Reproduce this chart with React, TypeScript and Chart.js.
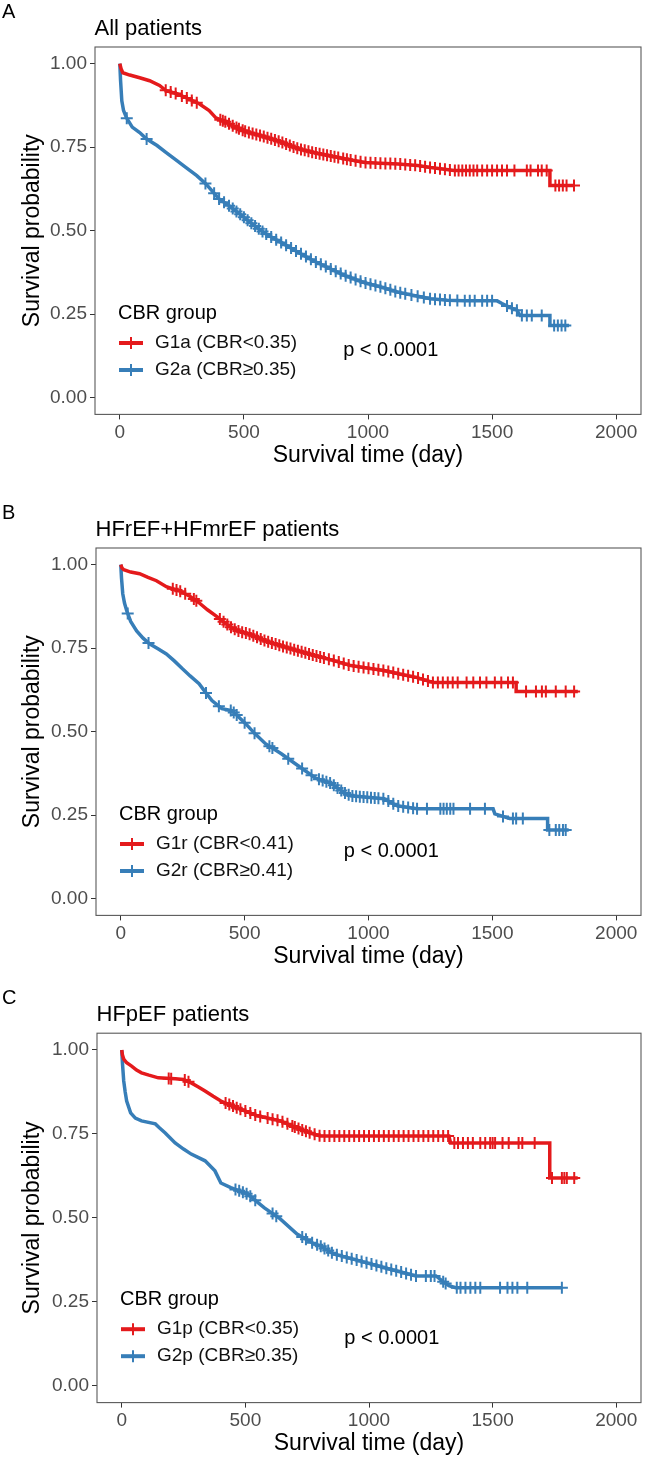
import React, { useEffect, useRef } from 'react';
import { Chart, registerables } from 'chart.js';

Chart.register(...registerables);

const RED = '#E41A1C';
const BLUE = '#377EB8';
const FONT = "'Liberation Sans', Arial, Helvetica, sans-serif";

// ---------- axes ----------
const xTicks = [0, 500, 1000, 1500, 2000];
const yTicks = [0, 0.25, 0.5, 0.75, 1];
const xMin = -100;
const xMax = 2100;
const yMin = -0.05;
const yMax = 1.05;

// ---------- text ----------
const panelLetters = ['A', 'B', 'C'];
const panelTitles = ['All patients', 'HFrEF+HFmrEF patients', 'HFpEF patients'];
const legendTitle = 'CBR group';
const legendLabels = [
  ['G1a (CBR<0.35)', 'G2a (CBR≥0.35)'],
  ['G1r (CBR<0.41)', 'G2r (CBR≥0.41)'],
  ['G1p (CBR<0.35)', 'G2p (CBR≥0.35)'],
];
const pValueText = 'p < 0.0001';
const pValueX = 900;
const pValueY = 0.14;
const xTitle = 'Survival time (day)';
const yTitle = 'Survival probability';

// ---------- Panel A: All patients ----------
const aRedT = [0, 5, 12, 40, 80, 120, 160, 187, 230, 267, 320, 360, 387, 420, 440, 480, 520, 580, 653, 720, 787, 840, 900, 987, 1050, 1120, 1200, 1253, 1300, 1347, 1733, 1733, 1830];
const aRedS = [1.0, 0.985, 0.973, 0.966, 0.958, 0.949, 0.935, 0.919, 0.91, 0.898, 0.88, 0.86, 0.838, 0.828, 0.82, 0.805, 0.794, 0.782, 0.765, 0.745, 0.733, 0.725, 0.716, 0.704, 0.702, 0.7, 0.695, 0.689, 0.685, 0.68, 0.68, 0.635, 0.635];
const aRedCens = [185, 205, 225, 250, 270, 290, 310, 405, 415, 425, 440, 455, 470, 480, 495, 505, 520, 535, 550, 565, 580, 595, 610, 625, 640, 655, 670, 685, 700, 715, 730, 745, 760, 775, 790, 805, 820, 835, 850, 865, 880, 900, 915, 930, 950, 970, 990, 1010, 1030, 1050, 1070, 1090, 1110, 1130, 1150, 1170, 1190, 1210, 1230, 1250, 1270, 1290, 1310, 1330, 1350, 1365, 1380, 1395, 1410, 1425, 1440, 1460, 1480, 1500, 1520, 1540, 1560, 1590, 1640, 1655, 1685, 1700, 1720, 1755, 1770, 1785, 1800, 1830];
const aBlueT = [0, 3, 8, 15, 27, 50, 80, 107, 150, 187, 230, 267, 310, 347, 400, 440, 480, 530, 587, 650, 720, 780, 840, 900, 987, 1050, 1120, 1190, 1253, 1320, 1387, 1520, 1540, 1573, 1600, 1613, 1733, 1733, 1810];
const aBlueS = [1.0, 0.95, 0.889, 0.86, 0.838, 0.81, 0.794, 0.775, 0.755, 0.734, 0.71, 0.689, 0.665, 0.64, 0.595, 0.575, 0.552, 0.522, 0.491, 0.465, 0.435, 0.41, 0.389, 0.368, 0.344, 0.332, 0.316, 0.305, 0.296, 0.292, 0.29, 0.29, 0.282, 0.27, 0.262, 0.246, 0.246, 0.216, 0.216];
const aBlueCens = [28, 108, 345, 380, 400, 420, 440, 455, 470, 485, 500, 515, 530, 545, 560, 575, 590, 610, 630, 650, 670, 690, 710, 730, 750, 770, 790, 810, 830, 850, 870, 890, 910, 930, 950, 970, 990, 1010, 1030, 1050, 1070, 1090, 1110, 1130, 1150, 1175, 1200, 1225, 1250, 1270, 1290, 1310, 1330, 1360, 1390, 1410, 1430, 1460, 1480, 1500, 1560, 1580, 1600, 1620, 1640, 1660, 1700, 1750, 1765, 1780, 1795];

// ---------- Panel B: HFrEF+HFmrEF ----------
const bRedT = [0, 5, 12, 40, 76, 110, 144, 184, 236, 280, 316, 350, 384, 420, 448, 480, 516, 584, 648, 716, 784, 850, 929, 1000, 1063, 1130, 1196, 1263, 1596, 1596, 1845];
const bRedS = [1.0, 0.99, 0.985, 0.978, 0.973, 0.962, 0.952, 0.934, 0.922, 0.905, 0.886, 0.865, 0.847, 0.826, 0.811, 0.8, 0.793, 0.772, 0.757, 0.742, 0.728, 0.715, 0.698, 0.69, 0.683, 0.672, 0.662, 0.647, 0.647, 0.62, 0.62];
const bRedCens = [210, 225, 240, 260, 295, 305, 400, 415, 430, 445, 460, 475, 490, 505, 520, 535, 550, 565, 580, 595, 610, 625, 640, 655, 670, 685, 700, 715, 730, 745, 760, 775, 790, 805, 820, 840, 860, 880, 900, 920, 940, 960, 980, 1000, 1020, 1040, 1060, 1080, 1100, 1120, 1140, 1160, 1180, 1200, 1220, 1240, 1260, 1280, 1300, 1320, 1340, 1360, 1396, 1423, 1450, 1476, 1510, 1536, 1563, 1583, 1636, 1676, 1700, 1716, 1756, 1796, 1830];
const bBlueT = [0, 3, 8, 15, 24, 40, 64, 90, 116, 150, 184, 216, 248, 280, 316, 340, 368, 408, 448, 475, 504, 540, 584, 648, 716, 784, 850, 903, 929, 1063, 1116, 1196, 1503, 1510, 1570, 1723, 1723, 1808];
const bBlueS = [1.0, 0.96, 0.913, 0.885, 0.862, 0.83, 0.802, 0.78, 0.763, 0.748, 0.733, 0.712, 0.689, 0.667, 0.644, 0.62, 0.593, 0.569, 0.563, 0.545, 0.524, 0.495, 0.464, 0.434, 0.398, 0.362, 0.345, 0.317, 0.308, 0.299, 0.278, 0.269, 0.269, 0.254, 0.24, 0.24, 0.206, 0.206];
const bBlueCens = [28, 112, 344, 396, 444, 456, 468, 500, 540, 600, 612, 676, 732, 770, 800, 815, 830, 845, 860, 875, 890, 905, 920, 935, 950, 965, 980, 995, 1010, 1025, 1040, 1060, 1080, 1100, 1120, 1140, 1160, 1180, 1196, 1236, 1290, 1303, 1316, 1330, 1343, 1410, 1470, 1543, 1583, 1596, 1623, 1730, 1756, 1770, 1785, 1796];

// ---------- Panel C: HFpEF ----------
const cRedT = [0, 3, 8, 20, 40, 60, 80, 110, 148, 216, 250, 281, 310, 337, 370, 401, 469, 549, 641, 709, 762, 802, 1323, 1330, 1731, 1731, 1844];
const cRedS = [1.0, 0.985, 0.973, 0.962, 0.952, 0.94, 0.932, 0.925, 0.917, 0.914, 0.912, 0.902, 0.89, 0.878, 0.862, 0.848, 0.827, 0.804, 0.789, 0.768, 0.753, 0.744, 0.744, 0.723, 0.723, 0.619, 0.619];
const cRedCens = [190, 200, 255, 270, 420, 435, 450, 465, 480, 500, 520, 540, 560, 590, 610, 630, 650, 670, 690, 700, 715, 730, 745, 760, 780, 800, 820, 840, 860, 880, 900, 920, 940, 960, 980, 1000, 1020, 1040, 1060, 1080, 1100, 1120, 1140, 1160, 1180, 1200, 1220, 1240, 1260, 1280, 1300, 1320, 1345, 1360, 1380, 1400, 1420, 1450, 1470, 1490, 1500, 1510, 1540, 1565, 1605, 1620, 1670, 1740, 1780, 1790, 1800, 1830];
const cBlueT = [0, 3, 8, 14, 20, 36, 55, 80, 136, 150, 176, 216, 250, 281, 337, 377, 401, 441, 509, 577, 641, 709, 777, 802, 857, 962, 1082, 1190, 1271, 1300, 1323, 1351, 1780];
const cBlueS = [1.0, 0.96, 0.908, 0.875, 0.848, 0.813, 0.797, 0.789, 0.78, 0.77, 0.753, 0.723, 0.705, 0.69, 0.67, 0.64, 0.604, 0.59, 0.571, 0.53, 0.497, 0.452, 0.423, 0.417, 0.393, 0.372, 0.348, 0.327, 0.327, 0.31, 0.298, 0.292, 0.292];
const cBlueCens = [460, 475, 490, 505, 520, 540, 610, 625, 730, 745, 770, 790, 805, 820, 835, 850, 870, 890, 910, 930, 950, 970, 990, 1010, 1030, 1050, 1070, 1090, 1110, 1130, 1150, 1170, 1190, 1230, 1250, 1265, 1300, 1310, 1355, 1370, 1390, 1410, 1430, 1450, 1530, 1560, 1580, 1600, 1640, 1780];

const panelData = [
  { redT: aRedT, redS: aRedS, redC: aRedCens, blueT: aBlueT, blueS: aBlueS, blueC: aBlueCens },
  { redT: bRedT, redS: bRedS, redC: bRedCens, blueT: bBlueT, blueS: bBlueS, blueC: bBlueCens },
  { redT: cRedT, redS: cRedS, redC: cRedCens, blueT: cBlueT, blueS: cBlueS, blueC: cBlueCens },
];

// ---------- layout (pixels) ----------
const layouts = [
  { top: 0, height: 480, left: 95, right: 647, frameTop: 47, frameBottom: 414.4 },
  { top: 480, height: 495, left: 96, right: 647, frameTop: 548, frameBottom: 915.4 },
  { top: 975, height: 483, left: 97, right: 646, frameTop: 1033.2, frameBottom: 1402.6 },
];
const X_AXIS_H = 55;

function curvePoints(ts: number[], ss: number[]) {
  return ts.map((t, i) => ({ x: t, y: ss[i] }));
}

// survival value on the drawn curve at a censoring time
function survAt(ts: number[], ss: number[], t: number) {
  for (let i = 1; i < ts.length; i++) {
    if (t <= ts[i]) {
      const t0 = ts[i - 1];
      const t1 = ts[i];
      if (t1 === t0) return ss[i];
      return ss[i - 1] + ((ss[i] - ss[i - 1]) * (t - t0)) / (t1 - t0);
    }
  }
  return ss[ss.length - 1];
}

function censorPoints(ts: number[], ss: number[], cens: number[]) {
  return cens.map((t) => ({ x: t, y: survAt(ts, ss, t) }));
}

function makeDecor(idx: number) {
  return {
    id: 'decor' + idx,
    afterDraw(chart: any) {
      const ctx = chart.ctx;
      const ca = chart.chartArea;
      const xs = chart.scales.x;
      const ys = chart.scales.y;
      ctx.save();
      // panel border
      ctx.strokeStyle = '#595959';
      ctx.lineWidth = 1.1;
      ctx.strokeRect(ca.left, ca.top, ca.right - ca.left, ca.bottom - ca.top);

      // panel letter and title
      ctx.fillStyle = '#000';
      ctx.textAlign = 'left';
      ctx.textBaseline = 'alphabetic';
      ctx.font = `20px ${FONT}`;
      ctx.fillText(panelLetters[idx], 2, ca.top - 29);
      ctx.font = `22px ${FONT}`;
      ctx.fillText(panelTitles[idx], ca.left - 0.5, ca.top - 12);

      // legend inside panel
      ctx.textBaseline = 'middle';
      ctx.font = `20px ${FONT}`;
      ctx.fillStyle = '#000';
      ctx.fillText(legendTitle, ca.left + 23, ca.top + 266);
      const colors = [RED, BLUE];
      const rowY = [ca.top + 296, ca.top + 323];
      for (let k = 0; k < 2; k++) {
        const y = rowY[k];
        const x1 = ca.left + 24;
        const x2 = ca.left + 48;
        ctx.strokeStyle = colors[k];
        ctx.lineWidth = 4;
        ctx.beginPath();
        ctx.moveTo(x1, y);
        ctx.lineTo(x2, y);
        ctx.stroke();
        ctx.lineWidth = 2;
        ctx.beginPath();
        ctx.moveTo((x1 + x2) / 2, y - 6);
        ctx.lineTo((x1 + x2) / 2, y + 6);
        ctx.stroke();
        ctx.fillStyle = '#111';
        ctx.font = `19px ${FONT}`;
        ctx.fillText(legendLabels[idx][k], ca.left + 60, y);
      }

      // p-value
      ctx.fillStyle = '#000';
      ctx.font = `20px ${FONT}`;
      ctx.fillText(pValueText, xs.getPixelForValue(pValueX), ys.getPixelForValue(pValueY));
      ctx.restore();
    },
  };
}

function makeConfig(idx: number): any {
  const d = panelData[idx];
  const L = layouts[idx];
  const tickFont = { family: FONT, size: 19 };
  return {
    type: 'line',
    data: {
      datasets: [
        {
          label: 'red censored',
          data: censorPoints(d.redT, d.redS, d.redC),
          showLine: false,
          pointStyle: 'cross',
          pointRadius: 6,
          pointBorderWidth: 2,
          pointBorderColor: RED,
          borderColor: RED,
        },
        {
          label: 'blue censored',
          data: censorPoints(d.blueT, d.blueS, d.blueC),
          showLine: false,
          pointStyle: 'cross',
          pointRadius: 6,
          pointBorderWidth: 2,
          pointBorderColor: BLUE,
          borderColor: BLUE,
        },
        {
          label: legendLabels[idx][0],
          data: curvePoints(d.redT, d.redS),
          borderColor: RED,
          borderWidth: 3.5,
          pointRadius: 0,
          tension: 0,
          fill: false,
        },
        {
          label: legendLabels[idx][1],
          data: curvePoints(d.blueT, d.blueS),
          borderColor: BLUE,
          borderWidth: 3.5,
          pointRadius: 0,
          tension: 0,
          fill: false,
        },
      ],
    },
    options: {
      animation: false,
      responsive: false,
      maintainAspectRatio: false,
      events: [],
      layout: {
        padding: {
          top: L.frameTop - L.top,
          left: 0,
          right: 649 - L.right,
          bottom: L.top + L.height - L.frameBottom - X_AXIS_H,
        },
      },
      plugins: { legend: { display: false }, tooltip: { enabled: false }, title: { display: false } },
      scales: {
        x: {
          type: 'linear',
          min: xMin,
          max: xMax,
          afterBuildTicks: (s: any) => {
            s.ticks = xTicks.map((v) => ({ value: v }));
          },
          afterFit: (s: any) => {
            s.height = X_AXIS_H;
          },
          ticks: {
            font: tickFont,
            color: '#4d4d4d',
            padding: 2,
            maxRotation: 0,
            autoSkip: false,
            callback: (v: any) => String(v),
          },
          grid: { drawOnChartArea: false, drawTicks: true, tickLength: 5, color: '#333', lineWidth: 1 },
          border: { display: false },
          title: {
            display: true,
            text: xTitle,
            color: '#000',
            font: { family: FONT, size: 23 },
            padding: { top: 0, bottom: 0 },
          },
        },
        y: {
          type: 'linear',
          min: yMin,
          max: yMax,
          afterBuildTicks: (s: any) => {
            s.ticks = yTicks.map((v) => ({ value: v }));
          },
          afterFit: (s: any) => {
            s.width = L.left;
          },
          ticks: {
            font: tickFont,
            color: '#4d4d4d',
            padding: 3,
            autoSkip: false,
            callback: (v: any) => Number(v).toFixed(2),
          },
          grid: { drawOnChartArea: false, drawTicks: true, tickLength: 5, color: '#333', lineWidth: 1 },
          border: { display: false },
          title: {
            display: true,
            text: yTitle,
            color: '#000',
            font: { family: FONT, size: 23 },
            padding: { top: 19, bottom: 0 },
          },
        },
      },
    },
    plugins: [makeDecor(idx)],
  };
}

function Panel({ idx }: { idx: number }) {
  const ref = useRef<HTMLCanvasElement | null>(null);
  const L = layouts[idx];
  useEffect(() => {
    if (!ref.current) return;
    const chart = new Chart(ref.current, makeConfig(idx));
    return () => chart.destroy();
  }, [idx]);
  return (
    <canvas
      ref={ref}
      width={649}
      height={L.height}
      style={{ position: 'absolute', left: 0, top: L.top, width: 649, height: L.height, display: 'block' }}
    />
  );
}

export default function App() {
  return (
    <div style={{ position: 'absolute', left: 0, top: 0, width: 649, height: 1457, background: '#fff', overflow: 'hidden' }}>
      <Panel idx={0} />
      <Panel idx={1} />
      <Panel idx={2} />
    </div>
  );
}
